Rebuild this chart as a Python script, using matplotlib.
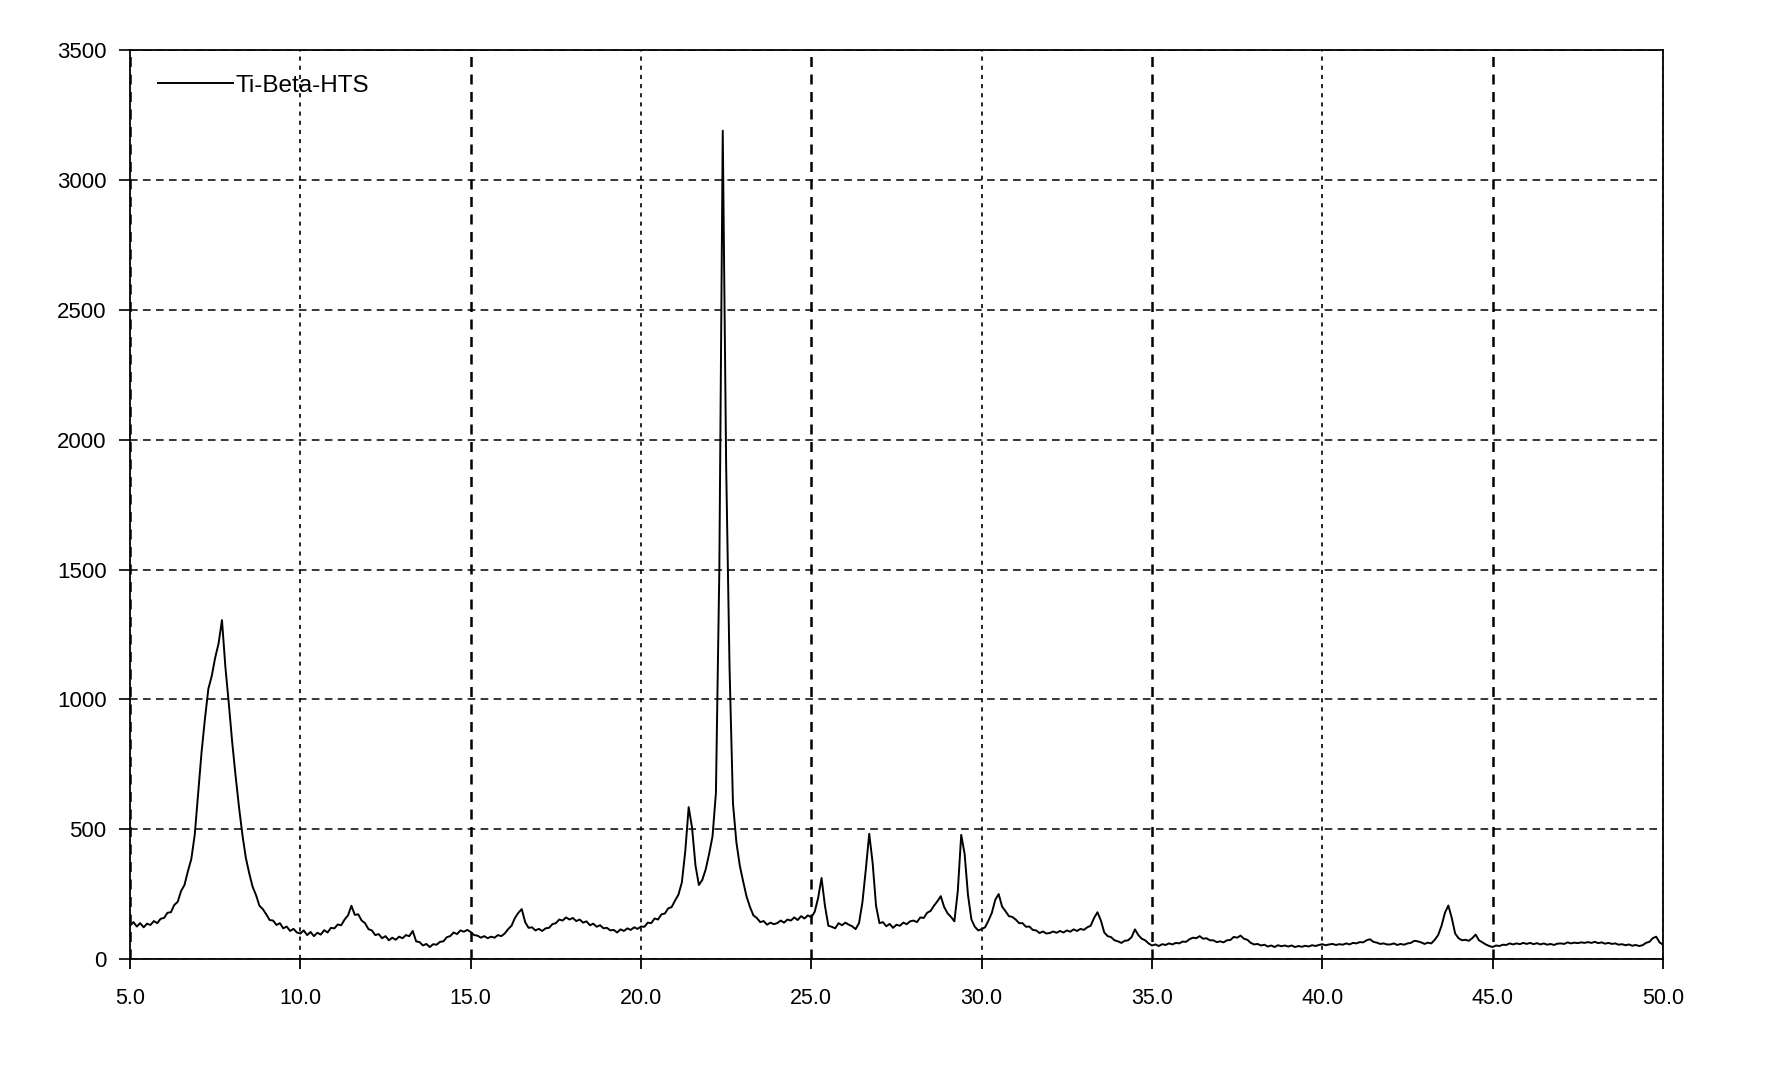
import numpy as np
import matplotlib
matplotlib.use("Agg")
import matplotlib.pyplot as plt

plt.rcParams["font.family"] = ["Liberation Sans", "DejaVu Sans"]

# --- Data: step scan, 0.1 deg per point, one row per degree (x.0 .. x.9) ---
scan_start = 5.0
scan_step = 0.1
counts = [
    128, 142, 125, 138, 122, 136, 131, 146, 138, 155,        # 5
    158, 178, 180, 208, 220, 262, 285, 338, 385, 478,        # 6
    635, 795, 925, 1040, 1090, 1160, 1215, 1305, 1125, 985,  # 7
    835, 705, 585, 478, 390, 330, 278, 246, 205, 192,        # 8
    172, 150, 148, 131, 138, 118, 125, 108, 116, 102,        # 9
    98, 110, 92, 104, 88, 101, 94, 111, 102, 120,            # 10
    118, 133, 130, 152, 168, 205, 170, 172, 148, 138,        # 11
    115, 110, 92, 96, 80, 88, 72, 82, 74, 86,                # 12
    80, 92, 88, 108, 68, 65, 52, 58, 46, 57,                 # 13
    55, 66, 68, 84, 88, 102, 96, 110, 105, 112,              # 14
    104, 92, 90, 82, 88, 80, 86, 82, 92, 88,                 # 15
    98, 115, 128, 158, 178, 192, 142, 120, 122, 110,         # 16
    116, 108, 118, 120, 134, 138, 152, 148, 160, 152,        # 17
    158, 146, 152, 140, 145, 130, 136, 124, 130, 118,        # 18
    120, 110, 112, 102, 114, 108, 118, 112, 122, 116,        # 19
    125, 124, 140, 138, 156, 152, 172, 175, 195, 200,        # 20
    225, 248, 295, 415, 585, 505, 360, 285, 305, 345,        # 21
    405, 472, 640, 1500, 3190, 1900, 1120, 600, 450, 360,    # 22
    298, 240, 200, 168, 158, 142, 146, 132, 140, 134,        # 23
    138, 148, 140, 152, 148, 160, 150, 165, 156, 168,        # 24
    160, 182, 235, 312, 205, 128, 124, 118, 138, 130,        # 25
    140, 132, 126, 115, 138, 218, 345, 482, 370, 205,        # 26
    138, 142, 126, 135, 120, 132, 128, 140, 134, 145,        # 27
    148, 142, 160, 158, 178, 185, 205, 222, 242, 200,        # 28
    176, 162, 145, 262, 478, 405, 245, 152, 124, 110,        # 29
    115, 122, 148, 178, 228, 250, 202, 184, 165, 162,        # 30
    152, 138, 138, 124, 125, 112, 110, 100, 106, 98,         # 31
    100, 106, 101, 108, 102, 110, 105, 114, 108, 116,        # 32
    112, 122, 128, 158, 180, 148, 102, 88, 84, 72,           # 33
    68, 62, 70, 72, 84, 114, 92, 78, 72, 60,                 # 34
    52, 56, 50, 57, 54, 60, 56, 62, 60, 67,                  # 35
    66, 76, 82, 80, 88, 78, 80, 72, 72, 65,                  # 36
    68, 64, 72, 73, 85, 82, 90, 78, 74, 62,                  # 37
    56, 58, 52, 55, 48, 52, 46, 53, 49, 52,                  # 38
    48, 52, 46, 50, 47, 51, 48, 53, 50, 54,                  # 39
    57, 53, 56, 58, 54, 57, 55, 60, 56, 62,                  # 40
    60, 65, 64, 72, 76, 66, 63, 58, 60, 56,                  # 41
    56, 60, 54, 58, 55, 60, 62, 70, 68, 64,                  # 42
    58, 63, 60, 74, 92, 128, 178, 206, 158, 98,              # 43
    80, 72, 74, 70, 80, 94, 72, 64, 56, 50,                  # 44
    46, 52, 50, 55, 54, 60, 56, 60, 57, 62,                  # 45
    58, 62, 57, 61, 56, 60, 55, 58, 54, 59,                  # 46
    60, 58, 64, 60, 63, 61, 64, 62, 65, 62,                  # 47
    66, 61, 64, 59, 62, 58, 60, 55, 57, 53,                  # 48
    56, 51, 54, 50, 53, 62, 66, 80, 86, 64,                  # 49
    55,                                                      # 50
]
two_theta = np.round(scan_start + scan_step * np.arange(len(counts)), 1)

series_label = "Ti-Beta-HTS"
x_major = [5, 15, 25, 35, 45]
x_minor = [10, 20, 30, 40, 50]
y_ticks = [0, 500, 1000, 1500, 2000, 2500, 3000, 3500]

# --- Figure ---
fig = plt.figure(figsize=(17.71, 10.91), dpi=100)
ax = fig.add_axes([0.0734, 0.121, 0.8656, 0.833])

ax.plot(two_theta, counts, color="black", lw=1.4, label=series_label)

ax.set_xlim(5, 50)
ax.set_ylim(0, 3500)
ax.set_xticks(x_major)
ax.set_xticks(x_minor, minor=True)
ax.xaxis.set_major_formatter(lambda v, p: f"{v:.1f}")
ax.xaxis.set_minor_formatter(lambda v, p: f"{v:.1f}")
ax.set_yticks(y_ticks)

ax.tick_params(axis="x", which="both", direction="out", length=7, width=1.3,
               pad=14, labelsize=15.5)
ax.tick_params(axis="y", direction="out", length=8, width=1.2, pad=9,
               labelsize=16)

ax.grid(axis="y", color="black", lw=1.1, linestyle=(0, (5, 3.5)))
ax.grid(axis="x", which="major", color="black", lw=1.8, linestyle=(0, (4, 3)))
ax.grid(axis="x", which="minor", color="black", lw=1.2, linestyle=(0, (2.5, 3)))

for s in ax.spines.values():
    s.set_linewidth(1.3)
    s.set_color("black")

ax.legend(loc="upper left", bbox_to_anchor=(0.0183, 0.973), frameon=False,
          borderpad=0, borderaxespad=0, handlelength=3.1, handletextpad=0.1,
          fontsize=17.5)

fig.savefig("out.png", dpi=100)
